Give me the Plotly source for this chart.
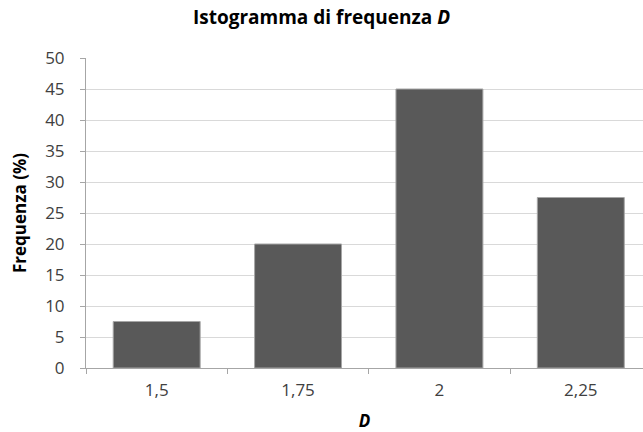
import plotly.graph_objects as go

categories = ["1,5", "1,75", "2", "2,25"]
frequenza = [7.5, 20, 45, 27.5]
y_ticks = list(range(0, 51, 5))

FONT = "Open Sans"

fig = go.Figure()
fig.add_trace(go.Bar(
    x=categories,
    y=frequenza,
    marker=dict(color="#595959", line=dict(color="#a6a6a6", width=1)),
))

fig.update_layout(
    width=643,
    height=432,
    paper_bgcolor="white",
    plot_bgcolor="white",
    margin=dict(l=86, r=0, t=58, b=64),
    bargap=0.385,
    showlegend=False,
    font=dict(family=FONT, color="#404040"),
    title=dict(
        text="<b>Istogramma di frequenza <i>D</i></b>",
        x=0.5, xanchor="center", y=1 - 17 / 432, yanchor="middle",
        font=dict(family=FONT, size=19, color="#000000"),
    ),
    xaxis=dict(
        type="category",
        range=[-0.5, 3.44],
        tickson="boundaries",
        ticks="outside",
        ticklen=5,
        tickcolor="#a6a6a6",
        showline=True,
        linecolor="#a6a6a6",
        linewidth=1,
        showgrid=False,
        tickfont=dict(family=FONT, size=17, color="#404040"),
        ticklabelstandoff=7,
        title=dict(text="<b><i>D</i></b>", font=dict(family=FONT, size=17, color="#000000"), standoff=15),
        fixedrange=True,
    ),
    yaxis=dict(
        range=[0, 50],
        tickvals=y_ticks,
        ticks="outside",
        ticklen=5,
        tickcolor="#a6a6a6",
        showline=True,
        linecolor="#a6a6a6",
        linewidth=1,
        showgrid=True,
        gridcolor="#d9d9d9",
        gridwidth=1,
        zeroline=False,
        tickfont=dict(family=FONT, size=17, color="#404040"),
        ticklabelstandoff=12,
        title=dict(text="<b>Frequenza (%)</b>", font=dict(family=FONT, size=17, color="#000000"), standoff=14),
        fixedrange=True,
    ),
)

fig.write_html(
    "out.html",
    config={"displayModeBar": False},
    post_script="document.body.style.margin='0';document.body.style.padding='0';",
)
